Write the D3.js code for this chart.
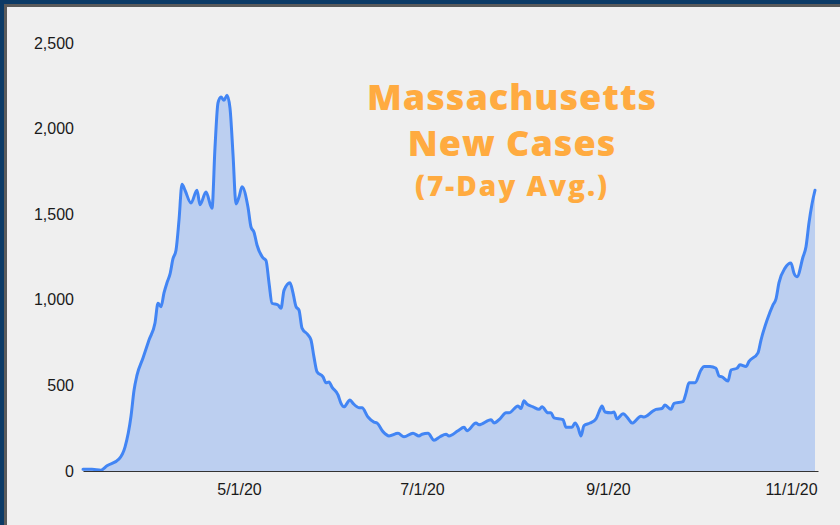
<!DOCTYPE html>
<html lang="en">

<head>
    <meta charset="UTF-8">
    <title>Massachusetts New Cases</title>
    <style>
        body { margin: 0; background: #efefef; }
        svg { display: block; }
    </style>
</head>

<body>
    <script src="https://d3js.org/d3.v7.min.js"></script>
    <div id="chart"></div>
    <script>

        const width = 840;
        const height = 525;

        // data (7-day average)
        const dates = ["2020-03-10", "2020-03-13", "2020-03-16", "2020-03-18", "2020-03-22", "2020-03-24", "2020-03-26", "2020-03-27", "2020-03-28", "2020-03-30",
            "2020-04-01", "2020-04-03", "2020-04-04", "2020-04-05", "2020-04-06", "2020-04-07", "2020-04-08", "2020-04-09", "2020-04-10", "2020-04-11",
            "2020-04-12", "2020-04-13", "2020-04-15", "2020-04-17", "2020-04-18", "2020-04-20", "2020-04-22", "2020-04-23", "2020-04-24", "2020-04-25",
            "2020-04-26", "2020-04-27", "2020-04-28", "2020-04-29", "2020-04-30", "2020-05-01", "2020-05-02", "2020-05-04", "2020-05-05", "2020-05-06",
            "2020-05-07", "2020-05-09", "2020-05-10", "2020-05-11", "2020-05-12", "2020-05-14", "2020-05-15", "2020-05-16", "2020-05-18", "2020-05-19",
            "2020-05-20", "2020-05-21", "2020-05-22", "2020-05-24", "2020-05-25", "2020-05-26", "2020-05-27", "2020-05-29", "2020-05-30", "2020-05-31",
            "2020-06-01", "2020-06-03", "2020-06-04", "2020-06-05", "2020-06-07", "2020-06-08", "2020-06-10", "2020-06-11", "2020-06-13", "2020-06-15",
            "2020-06-16", "2020-06-18", "2020-06-20", "2020-06-23", "2020-06-25", "2020-06-28", "2020-06-30", "2020-07-01", "2020-07-03", "2020-07-05",
            "2020-07-07", "2020-07-09", "2020-07-10", "2020-07-13", "2020-07-15", "2020-07-16", "2020-07-19", "2020-07-20", "2020-07-24", "2020-07-25",
            "2020-07-27", "2020-07-29", "2020-07-30", "2020-08-02", "2020-08-03", "2020-08-04", "2020-08-05", "2020-08-07", "2020-08-09", "2020-08-10",
            "2020-08-12", "2020-08-13", "2020-08-14", "2020-08-17", "2020-08-18", "2020-08-20", "2020-08-21", "2020-08-22", "2020-08-23", "2020-08-24",
            "2020-08-26", "2020-08-28", "2020-08-29", "2020-08-30", "2020-08-31", "2020-09-02", "2020-09-03", "2020-09-04", "2020-09-06", "2020-09-08",
            "2020-09-09", "2020-09-12", "2020-09-13", "2020-09-16", "2020-09-17", "2020-09-19", "2020-09-20", "2020-09-22", "2020-09-23", "2020-09-26",
            "2020-09-27", "2020-09-28", "2020-09-30", "2020-10-02", "2020-10-03", "2020-10-05", "2020-10-07", "2020-10-08", "2020-10-09", "2020-10-11",
            "2020-10-12", "2020-10-14", "2020-10-15", "2020-10-17", "2020-10-18", "2020-10-21", "2020-10-22", "2020-10-24", "2020-10-26", "2020-10-27",
            "2020-10-28", "2020-10-30", "2020-11-01", "2020-11-02", "2020-11-03", "2020-11-05", "2020-11-06", "2020-11-07", "2020-11-08", "2020-11-09"];

        const cases = [10, 10, 5, 30, 70, 140, 320, 470, 560, 660,
            765, 865, 980, 960, 1040, 1100, 1150, 1240, 1290, 1465,
            1675, 1640, 1565, 1640, 1555, 1630, 1535, 1890, 2150, 2185,
            2165, 2195, 2120, 1850, 1560, 1600, 1660, 1540, 1425, 1395,
            1320, 1245, 1230, 1100, 980, 970, 950, 1055, 1100, 1040,
            960, 940, 835, 795, 765, 665, 580, 550, 515, 520,
            490, 445, 395, 375, 415, 395, 370, 370, 315, 285,
            280, 230, 205, 220, 200, 220, 205, 215, 220, 180,
            200, 215, 205, 235, 255, 235, 280, 270, 300, 280,
            305, 340, 340, 380, 365, 410, 390, 375, 360, 375,
            340, 340, 310, 300, 255, 255, 280, 255, 205, 265,
            280, 305, 345, 380, 345, 340, 345, 305, 335, 300,
            280, 320, 315, 350, 360, 365, 385, 360, 395, 405,
            455, 515, 515, 590, 610, 610, 600, 555, 550, 525,
            590, 600, 620, 610, 640, 690, 765, 880, 970, 1005,
            1100, 1185, 1215, 1155, 1135, 1250, 1310, 1450, 1560, 1640];

        const yTicks = [0, 500, 1000, 1500, 2000, 2500];
        const xTicks = ["2020-05-01", "2020-07-01", "2020-09-01", "2020-11-01"];
        const titleLines = ["Massachusetts", "New Cases", "(7-Day Avg.)"];

        const parse = d3.timeParse("%Y-%m-%d");
        const data = dates.map((d, i) => ({ date: parse(d), value: cases[i] }));

        const x = d3.scaleTime()
            .domain([parse("2020-03-10"), parse("2020-11-10")])
            .range([83, 818]);

        const y = d3.scaleLinear()
            .domain([0, 2500])
            .range([471, 43]);

        const svg = d3.select("#chart").append("svg")
            .attr("width", width)
            .attr("height", height);

        // frame
        svg.append("rect").attr("width", width).attr("height", height).attr("fill", "#0b3a66");
        svg.append("rect").attr("x", 4).attr("y", 4).attr("width", width).attr("height", height).attr("fill", "#5a5a5a");
        svg.append("rect").attr("x", 7).attr("y", 7).attr("width", width).attr("height", height).attr("fill", "#efefef");

        // area + line
        const area = d3.area()
            .x(d => x(d.date))
            .y0(y(0))
            .y1(d => y(d.value))
            .curve(d3.curveMonotoneX);

        const line = d3.line()
            .x(d => x(d.date))
            .y(d => y(d.value))
            .curve(d3.curveMonotoneX);

        svg.append("path")
            .datum(data)
            .attr("fill", "#bccff0")
            .attr("d", area);

        svg.append("path")
            .datum(data)
            .attr("fill", "none")
            .attr("stroke", "#4285f4")
            .attr("stroke-width", 3)
            .attr("stroke-linejoin", "round")
            .attr("stroke-linecap", "round")
            .attr("d", line);

        // y axis
        svg.append("g")
            .attr("transform", "translate(74,0)")
            .call(d3.axisLeft(y).tickValues(yTicks).tickSize(0).tickPadding(0).tickFormat(d3.format(",")))
            .call(g => g.select(".domain").remove())
            .call(g => g.selectAll("text")
                .attr("font-family", "Liberation Sans, Arial, sans-serif")
                .attr("font-size", 16)
                .attr("fill", "#1a1a1a"));

        // x axis
        svg.append("g")
            .attr("transform", `translate(0,${y(0)})`)
            .call(d3.axisBottom(x).tickValues(xTicks.map(parse)).tickSize(0).tickPadding(13).tickFormat(d3.timeFormat("%-m/%-d/%y")))
            .call(g => g.select(".domain").attr("stroke", "#333").attr("stroke-width", 1.2))
            .call(g => g.selectAll("text")
                .attr("font-family", "Liberation Sans, Arial, sans-serif")
                .attr("font-size", 16)
                .attr("fill", "#1a1a1a"));

        // title
        svg.append("g")
            .attr("font-family", "'Open Sans', Lato, sans-serif")
            .attr("font-weight", 800)
            .attr("fill", "#ffab40")
            .attr("text-anchor", "middle")
            .selectAll("text")
            .data(titleLines)
            .join("text")
            .attr("x", 512)
            .attr("y", (d, i) => [110, 156, 196][i])
            .attr("font-size", (d, i) => i < 2 ? 36 : 28)
            .attr("letter-spacing", (d, i) => i < 2 ? 1 : 2)
            .text(d => d);

    </script>
</body>

</html>
